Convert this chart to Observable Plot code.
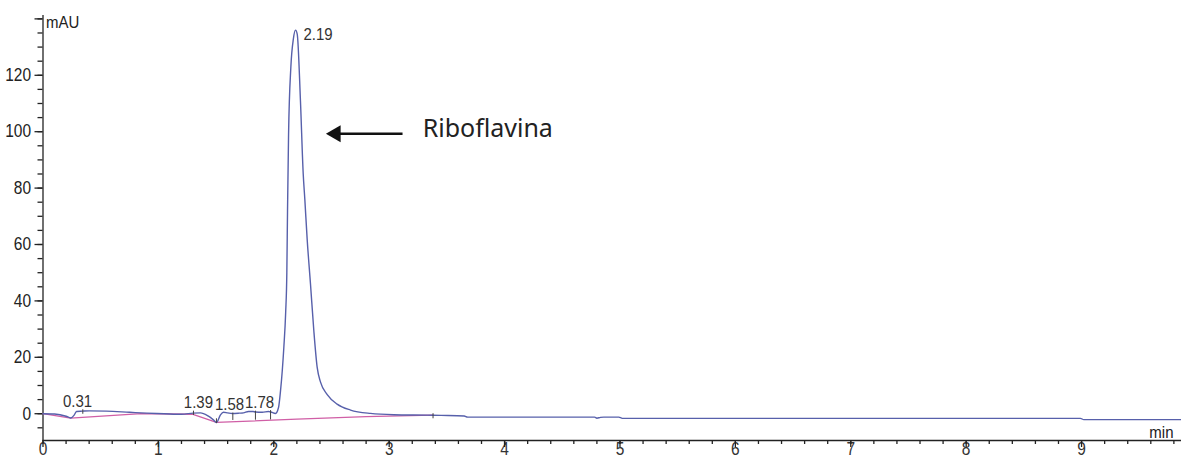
<!DOCTYPE html>
<html>
<head>
<meta charset="utf-8">
<script src="https://cdn.jsdelivr.net/npm/d3@7"></script>
<script src="https://cdn.jsdelivr.net/npm/@observablehq/plot@0.6"></script>
<style>
html, body { margin: 0; padding: 0; background: #fff; overflow: hidden; }
#chart svg { display: block; }
</style>
</head>
<body>
<div id="chart"></div>
<script>
// Chromatogram signal (time in min, absorbance in mAU)
const signalTime = [0.00,0.10,0.20,0.24,0.27,0.29,0.34,0.40,0.55,0.75,0.90,1.05,1.20,1.30,1.365,1.43,1.477,1.503,1.538,1.564,1.60,1.64,1.70,1.737,1.781,1.82,1.841,1.90,1.954,1.975,2.015,2.041,2.058,2.087,2.103,2.113,2.119,2.128,2.148,2.170,2.188,2.203,2.231,2.255,2.269,2.289,2.318,2.347,2.376,2.405,2.463,2.549,2.665,2.838,3.04,3.33,3.45,3.65,3.68,4.78,4.80,4.83,4.86,4.99,5.02,8.99,9.02,9.87];
const signalValue = [0.0,-0.1,-0.9,-1.5,-0.5,0.8,0.9,1.0,0.9,0.5,0.2,0.0,-0.2,0.2,0.3,-0.8,-2.2,-3.1,-0.4,0.5,0.3,0.1,0.2,0.3,0.8,0.8,0.6,0.5,0.8,0.6,0.1,2.2,8.0,23.5,36,50,72,99,123,133,136,134.6,111,85,76,62,46,29.4,16.4,11.2,6.8,3.4,1.3,0.1,-0.35,-0.5,-0.6,-0.8,-1.2,-1.2,-1.6,-1.3,-1.2,-1.2,-1.65,-1.65,-2.1,-2.1];

// Integration baseline
const baseTime = [0.00,0.24,0.85,1.30,1.503,2.2,2.8,3.38];
const baseValue = [0.0,-1.6,0.0,-0.2,-3.1,-1.9,-1.0,-0.5];

// Integration markers
const markTime = [0.345,1.304,1.503,1.645,1.841,1.972,3.38];
const markTop = [1.4,0.9,-1.8,0.2,0.9,1.1,0.0];
const markBottom = [-0.2,-0.6,-3.5,-2.4,-2.3,-2.2,-1.8];

// Peak retention-time labels
const peakLabels = ["0.31","1.39","1.58","1.78","2.19"];
const peakLabelTime = [0.30,1.347,1.616,1.876,2.257];
const peakLabelValue = [4.5,4.1,3.3,4.1,134.4];

// Axis ticks
const xTickLabels = [0,1,2,3,4,5,6,7,8,9];
const xMinorTicks = d3.range(0, 9.85, 0.2);
const yTickLabels = [0,20,40,60,80,100,120];
const yMajorTicks = [0,20,40,60,80,100,120,140];
const yMinorTicks = d3.range(-5, 141, 5);

// Annotation
const annotationText = "Riboflavina";
const arrowTip = {t: 2.45, v: 99.3};
const arrowTail = {t: 3.12, v: 99.3};
const annotationPos = {t: 3.29, v: 100.9};

const xDomain = [0, 9.866];
const yDomain = [-9.5, 141.2];

const signal = signalTime.map((t, i) => ({t, v: signalValue[i]}));
const baseline = baseTime.map((t, i) => ({t, v: baseValue[i]}));
const marks = markTime.map((t, i) => ({t, y1: markTop[i], y2: markBottom[i]}));
const labels = peakLabels.map((s, i) => ({s, t: peakLabelTime[i], v: peakLabelValue[i]}));

const axisColor = "#222";
const blue = "#5760ab";
const pink = "#d05fa6";
const font = "'Liberation Sans', Arial, sans-serif";

const chart = Plot.plot({
  width: 1181,
  height: 470,
  marginLeft: 42.5,
  marginRight: 0,
  marginTop: 15,
  marginBottom: 30,
  style: {fontFamily: font, fontSize: "15px", color: axisColor, background: "#fff"},
  x: {domain: xDomain, axis: null},
  y: {domain: yDomain, axis: null},
  marks: [
    // axis lines
    Plot.ruleX([0], {y1: yDomain[0], y2: yDomain[1], stroke: axisColor, strokeWidth: 1.3}),
    Plot.ruleY([yDomain[0]], {x1: xDomain[0], x2: xDomain[1], stroke: axisColor, strokeWidth: 1.3}),
    // y axis
    Plot.axisY({ticks: yMinorTicks, tickSize: 5, tickFormat: () => "", label: null, stroke: axisColor, strokeWidth: 1.3}),
    Plot.axisY({ticks: yMajorTicks, tickSize: 8, tickFormat: () => "", label: null, stroke: axisColor, strokeWidth: 1.3}),
    Plot.axisY({ticks: yTickLabels, tickSize: 0, tickPadding: 10, dx: -2, label: null, fill: axisColor, fontSize: 15.5, fontFamily: font, className: "stretch"}),
    // x axis
    Plot.axisX({ticks: xMinorTicks, tickSize: 4, tickFormat: () => "", label: null, stroke: axisColor, strokeWidth: 1.3}),
    Plot.axisX({ticks: xTickLabels, tickSize: 0, tickPadding: 3, label: null, fill: "#333", fontSize: 15.5, fontFamily: font, className: "stretch"}),
    Plot.axisX({ticks: xTickLabels, tickSize: 7, tickFormat: () => "", label: null, stroke: axisColor, strokeWidth: 1.3}),
    // axis titles
    Plot.text(["mAU"], {x: 0, y: yDomain[1], dx: 3, dy: 7, textAnchor: "start", fontSize: 15, fontFamily: font, fill: axisColor, className: "stretch"}),
    Plot.text(["min"], {x: xDomain[1], y: -6.6, dx: -8, textAnchor: "end", fontSize: 15, fontFamily: font, fill: axisColor, className: "stretch"}),
    // baseline and signal
    Plot.line(baseline, {x: "t", y: "v", stroke: pink, strokeWidth: 1.3}),
    Plot.line(signal, {x: "t", y: "v", stroke: blue, strokeWidth: 1.4, curve: "monotone-x"}),
    // integration markers
    Plot.ruleX(marks, {x: "t", y1: "y1", y2: "y2", stroke: "#444", strokeWidth: 1}),
    // peak labels
    Plot.text(labels.slice(0, 4), {x: "t", y: "v", text: "s", textAnchor: "middle", fontSize: 15, fontFamily: font, fill: "#333", className: "stretch"}),
    Plot.text(labels.slice(4), {x: "t", y: "v", text: "s", textAnchor: "start", fontSize: 15, fontFamily: font, fill: "#333", className: "stretch"}),
    // arrow annotation
    Plot.ruleY([arrowTip.v], {x1: arrowTip.t + 0.08, x2: arrowTail.t, stroke: "#111", strokeWidth: 2.5}),
    Plot.dot([arrowTip], {x: "t", y: "v", symbol: "triangle", r: 6.3, rotate: -90, dx: 10, fill: "#111", stroke: "none"}),
    Plot.text([annotationText], {x: annotationPos.t, y: annotationPos.v, textAnchor: "start", fontSize: 25, fontFamily: "'Noto Sans', sans-serif", fill: "#222"})
  ]
});
document.getElementById("chart").appendChild(chart);

// Slight vertical stretch of the instrument-style texts, as in the original print
chart.querySelectorAll(".stretch text").forEach((el) => {
  const b = el.getBBox();
  const cy = b.y + b.height / 2;
  const prev = el.getAttribute("transform") || "";
  el.setAttribute("transform", `${prev} translate(0,${cy}) scale(1,1.15) translate(0,${-cy})`.trim());
});
</script>
</body>
</html>
